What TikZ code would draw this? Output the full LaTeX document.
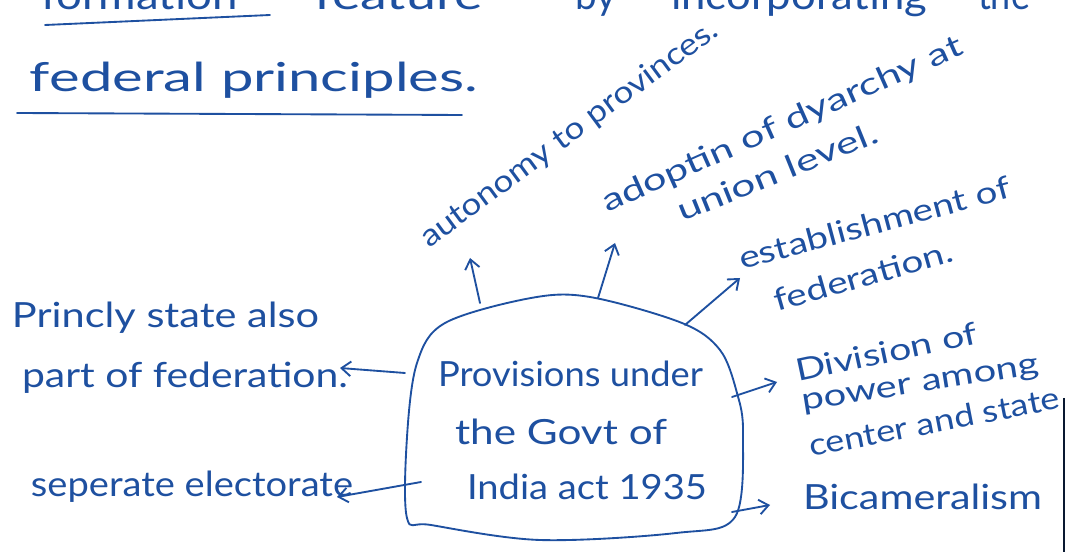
\documentclass[tikz,border=0pt]{standalone}
\usepackage{fontspec}
\setmainfont{Lato}
\usetikzlibrary{arrows.meta}
\definecolor{ink}{RGB}{30,80,160}
\newdimen\pxu \pxu=0.75pt
\newcommand{\fitw}[2]{\resizebox{#1\pxu}{\height}{#2}}
\tikzset{
 hand/.style={text=ink, inner sep=0pt, outer sep=0pt, anchor=base west, font=\fontsize{26}{30}\selectfont},
 small/.style={font=\fontsize{23}{27}\selectfont},
 big/.style={font=\fontsize{30}{34}\selectfont},
 link/.style={draw=ink, line width=1.4pt, -{Straight Barb[length=7pt,width=11pt]}, line cap=round},
 pen/.style={draw=ink, line width=1.4pt, line cap=round, line join=round},
}
\begin{document}
\begin{tikzpicture}[x=0.75pt,y=-0.75pt]
\useasboundingbox (0,0) rectangle (1072,552);
\clip (0,0) rectangle (1072,552);
% top (cut) line
\node[hand, big] (w1) at (41,10) {\fitw{197}{formation}};
\node[hand, big] (w2) at (314,10) {\fitw{169}{feature}};
\node[hand, big] (w3) at (575,10) {\fitw{41}{by}};
\node[hand, big] (w4) at (671,10) {\fitw{256}{incorporating}};
\node[hand, big] (w5) at (978,10) {\fitw{52}{the}};
\coordinate (u1a) at (45,25); \coordinate (u1b) at (270,15);
\draw[pen] (u1a) -- (u1b);
\node[hand, big] (fp) at (30,92) {\fitw{448}{federal principles.}};
\coordinate (u2a) at (17,113); \coordinate (u2b) at (462,115);
\draw[pen] (u2a) -- (u2b);
% central blob
\node[hand] (c1) at (438,387) {\fitw{265}{Provisions under}};
\node[hand] (c2) at (455,445) {\fitw{212}{the Govt of}};
\node[hand] (c3) at (467,500) {\fitw{240}{India act 1935}};
\draw[pen] plot[smooth cycle, tension=0.55] coordinates {(590,297) (682,323) (720,350) (737,393) (743,433) (735,517) (676,533) (540,540) (431,525) (407,518) (407,437) (417,363) (445,323) (531,298)};
% branch texts
\node[hand, small, rotate=36.4] (auto) at (429,249) {\fitw{362}{autonomy to provinces.}};
\node[hand, small, rotate=24] (adop) at (607,213) {\fitw{392}{adoptin of dyarchy at}};
\node[hand, small, rotate=22] (unio) at (682,222) {\fitw{214}{union level.}};
\node[hand, small, rotate=15] (esta) at (742,270) {\fitw{280}{establishment of}};
\node[hand, small, rotate=16] (fede) at (777,312) {\fitw{185}{federation.}};
\node[hand] (prin) at (12,328) {\fitw{307}{Princly state also}};
\node[hand] (part) at (22,388) {\fitw{326}{part of federation.}};
\node[hand] (sepe) at (31,497) {\fitw{322}{seperate electorate}};
\node[hand, small, rotate=12] (divi) at (798,382) {\fitw{185}{Division of}};
\node[hand, small, rotate=9] (powe) at (803,411) {\fitw{240}{power among}};
\node[hand, small, rotate=11] (cent) at (811,457) {\fitw{255}{center and state}};
\node[hand] (bica) at (803,510) {\fitw{239}{Bicameralism}};
% connectors
\coordinate (s1) at (480,303); \coordinate (e1) at (470,258);
\coordinate (s2) at (598,298); \coordinate (e2) at (615,243);
\coordinate (s3) at (685,325); \coordinate (e3) at (740,278);
\coordinate (s4) at (405,373); \coordinate (e4) at (340,368);
\coordinate (s5) at (421,482); \coordinate (e5) at (337,497);
\coordinate (s6) at (732,397); \coordinate (e6) at (777,382);
\coordinate (s7) at (732,512); \coordinate (e7) at (770,505);
\draw[link] (s1) -- (e1);
\draw[link] (s2) -- (e2);
\draw[link] (s3) -- (e3);
\draw[link] (s4) -- (e4);
\draw[link] (s5) -- (e5);
\draw[link] (s6) -- (e6);
\draw[link] (s7) -- (e7);
% paper edge
\coordinate (pe1) at (1064,398); \coordinate (pe2) at (1064,552);
\draw[line width=1pt, draw=black!70!ink] (pe1) -- (pe2);
\end{tikzpicture}
\end{document}
